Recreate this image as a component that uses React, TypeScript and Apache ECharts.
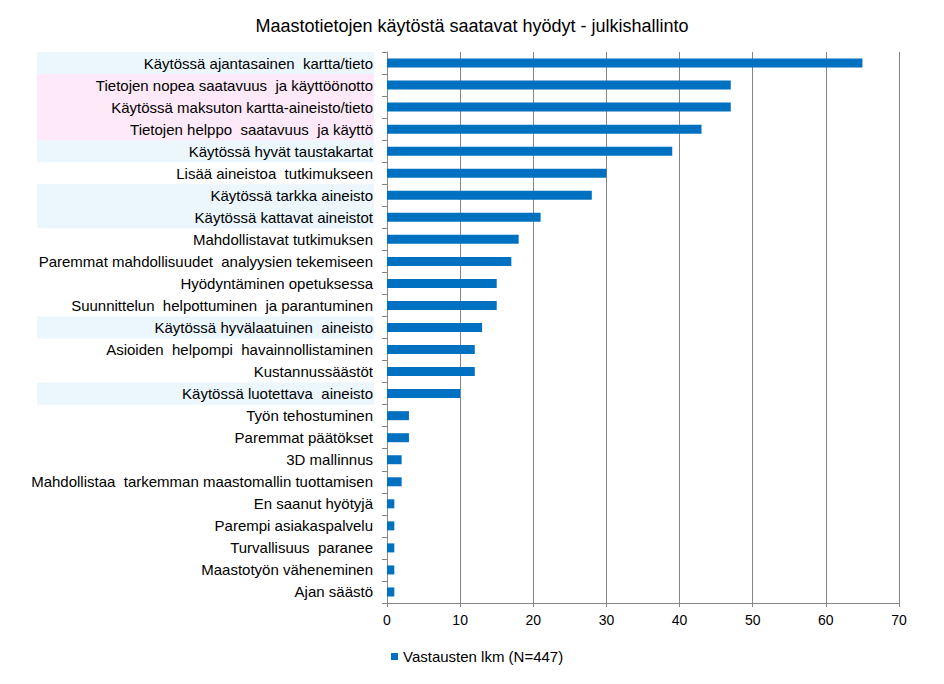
import React, { useEffect, useRef } from "react";
import * as echarts from "echarts";

const categories = [
  "Käytössä ajantasainen  kartta/tieto",
  "Tietojen nopea saatavuus  ja käyttöönotto",
  "Käytössä maksuton kartta-aineisto/tieto",
  "Tietojen helppo  saatavuus  ja käyttö",
  "Käytössä hyvät taustakartat",
  "Lisää aineistoa  tutkimukseen",
  "Käytössä tarkka aineisto",
  "Käytössä kattavat aineistot",
  "Mahdollistavat tutkimuksen",
  "Paremmat mahdollisuudet  analyysien tekemiseen",
  "Hyödyntäminen opetuksessa",
  "Suunnittelun  helpottuminen  ja parantuminen",
  "Käytössä hyvälaatuinen  aineisto",
  "Asioiden  helpompi  havainnollistaminen",
  "Kustannussäästöt",
  "Käytössä luotettava  aineisto",
  "Työn tehostuminen",
  "Paremmat päätökset",
  "3D mallinnus",
  "Mahdollistaa  tarkemman maastomallin tuottamisen",
  "En saanut hyötyjä",
  "Parempi asiakaspalvelu",
  "Turvallisuus  paranee",
  "Maastotyön väheneminen",
  "Ajan säästö",
];

const values = [65, 47, 47, 43, 39, 30, 28, 21, 18, 17, 15, 15, 13, 12, 12, 10, 3, 3, 2, 2, 1, 1, 1, 1, 1];

const blueRows = [0, 4, 6, 7, 12, 15];
const pinkRows = [1, 2, 3];

const seriesName = "Vastausten lkm (N=447)";
const title = "Maastotietojen käytöstä saatavat hyödyt - julkishallinto";

const FONT = "Liberation Sans, Arial, sans-serif";

export default function App() {
  const ref = useRef<HTMLDivElement>(null);
  useEffect(() => {
    if (!ref.current) return;
    const chart = echarts.init(ref.current, undefined, { renderer: "svg" });
    const gridTop = 52;
    const gridBottom = 81;
    chart.setOption({
      animation: false,
      backgroundColor: "#ffffff",
      textStyle: { fontFamily: FONT },
      title: {
        text: title,
        left: "center",
        top: 12,
        textStyle: { fontSize: 18, fontWeight: "normal", color: "#000", fontFamily: FONT },
      },
      grid: { left: 387, right: 45, top: gridTop, bottom: gridBottom, containLabel: false },
      legend: {
        left: 386,
        top: 644,
        icon: "rect",
        itemWidth: 7,
        itemHeight: 7,
        itemGap: 5,
        textStyle: { fontSize: 15, color: "#000", fontFamily: FONT },
        data: [seriesName],
      },
      xAxis: {
        type: "value",
        min: 0,
        max: 70,
        interval: 10,
        axisLine: { show: true, lineStyle: { color: "#868686", width: 1 } },
        axisTick: { show: true, length: 4, lineStyle: { color: "#868686" } },
        splitLine: { show: true, lineStyle: { color: "#868686", width: 1 } },
        axisLabel: { fontSize: 14, color: "#000", margin: 10, fontFamily: FONT },
      },
      yAxis: {
        type: "category",
        inverse: true,
        data: categories,
        axisLine: { show: true, lineStyle: { color: "#868686", width: 1 } },
        axisTick: { show: true, length: 5, lineStyle: { color: "#868686" } },
        axisLabel: { fontSize: 15, color: "#000", margin: 14, fontFamily: FONT },
      },
      series: [
        {
          name: seriesName,
          type: "bar",
          data: values,
          barWidth: 9,
          itemStyle: { color: "#0070C0" },
        },
      ],
    });

    const plotH = 684 - gridTop - gridBottom;
    const band = plotH / categories.length;
    const rects: any[] = [];
    const addRect = (i: number, color: string) => {
      const cy = chart.convertToPixel({ yAxisIndex: 0 }, categories[i]) as number;
      rects.push({
        type: "rect",
        z: -10,
        silent: true,
        shape: { x: 37, y: cy - band / 2, width: 337, height: band },
        style: { fill: color },
      });
    };
    blueRows.forEach((i) => addRect(i, "#EBF6FD"));
    pinkRows.forEach((i) => addRect(i, "#FDE9F8"));
    chart.setOption({ graphic: rects });

    return () => chart.dispose();
  }, []);
  return <div ref={ref} style={{ width: 944, height: 684, margin: -8 }} />;
}
